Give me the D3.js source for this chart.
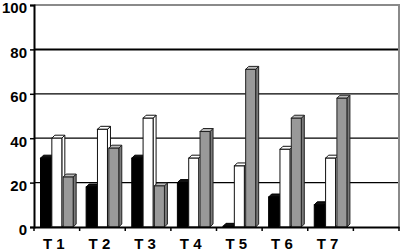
<!DOCTYPE html>
<html>
<head>
<meta charset="utf-8">
<script src="https://cdn.jsdelivr.net/npm/d3@7"></script>
<style>
  body { margin: 0; background: #fff; }
  text { font-family: "Liberation Sans", Arial, sans-serif; font-weight: bold; }
</style>
</head>
<body>
<svg width="404" height="252"></svg>
<script>
// chart data
const categories = ["T 1", "T 2", "T 3", "T 4", "T 5", "T 6", "T 7", ""];
const seriesNames = ["black", "white", "gray"];
const blackValues = [31, 18, 31, 20, 0.3, 13.5, 10];
const whiteValues = [40, 44, 49, 31, 27.5, 35, 31];
const grayValues = [22.5, 35.5, 18.5, 43, 71, 49, 58];
const yTicks = [0, 20, 40, 60, 80, 100];

const svg = d3.select("svg"),
  margin = { left: 34, top: 5, right: 5, bottom: 25 },
  width = 404 - margin.left - margin.right,
  height = 252 - margin.top - margin.bottom,
  depth = 3;

const g = svg.append("g").attr("transform", `translate(${margin.left},${margin.top})`);

const x = d3.scaleBand().domain(categories).range([0, width]);
const xInner = d3.scaleBand().domain(seriesNames).range([6.5, 6.5 + 34]);
const y = d3.scaleLinear().domain([0, 100]).range([height, 0]);

// colours: front, top, side, outline
const styles = {
  black: { front: "#000", top: "#111", side: "#000", stroke: "#000" },
  white: { front: "#fff", top: "#fff", side: "#fff", stroke: "#111" },
  gray: { front: "#999", top: "#bbb", side: "#7a7a7a", stroke: "#222" }
};

// gridlines
g.selectAll(".grid")
  .data(yTicks.filter(d => d > 0 && d < 100))
  .enter()
  .append("line")
  .attr("x1", 0)
  .attr("x2", width)
  .attr("y1", d => y(d))
  .attr("y2", d => y(d))
  .attr("stroke", "#000")
  .attr("stroke-width", d => (d === 80 ? 2 : 1.2));

// gray frame top and right
g.append("path")
  .attr("d", `M0,${y(100)}H${width}V${height}`)
  .attr("fill", "none")
  .attr("stroke", "#8a8a8a")
  .attr("stroke-width", 2);

// bars
const rows = categories.slice(0, 7).map((c, i) => ({
  cat: c,
  vals: [blackValues[i], whiteValues[i], grayValues[i]]
}));

const groups = g.selectAll(".grp")
  .data(rows)
  .enter()
  .append("g")
  .attr("transform", d => `translate(${x(d.cat)},0)`);

const bw = 10;
groups.each(function (d) {
  const gg = d3.select(this);
  seriesNames.forEach((s, j) => {
    const v = d.vals[j];
    const x0 = xInner(s), y0 = y(v), st = styles[s];
    // side
    gg.append("path")
      .attr("d", `M${x0 + bw},${y0}L${x0 + bw + depth},${y0 - depth}L${x0 + bw + depth},${height - depth}L${x0 + bw},${height}Z`)
      .attr("fill", st.side).attr("stroke", st.stroke).attr("stroke-width", 1);
    // top
    gg.append("path")
      .attr("d", `M${x0},${y0}L${x0 + depth},${y0 - depth}L${x0 + bw + depth},${y0 - depth}L${x0 + bw},${y0}Z`)
      .attr("fill", st.top).attr("stroke", st.stroke).attr("stroke-width", 1);
    // front
    gg.append("rect")
      .attr("x", x0).attr("y", y0)
      .attr("width", bw).attr("height", height - y0)
      .attr("fill", st.front).attr("stroke", st.stroke).attr("stroke-width", 1);
  });
});

// y axis
const yAxis = g.append("g")
  .call(d3.axisLeft(y).tickValues(yTicks).tickSize(4).tickPadding(3));
yAxis.select(".domain").attr("stroke", "#000").attr("stroke-width", 2);
yAxis.selectAll(".tick line").attr("stroke", "#000").attr("stroke-width", 1.5);
yAxis.selectAll("text").attr("font-size", 15).attr("fill", "#000").attr("dy", "0.52em");

// x axis
const xAxis = g.append("g")
  .attr("transform", `translate(0,${height})`)
  .call(d3.axisBottom(x).tickSize(0).tickPadding(11));
xAxis.select(".domain").attr("stroke", "#000").attr("stroke-width", 2);
xAxis.selectAll("text").attr("font-size", 15).attr("fill", "#000").attr("dx", -3);

// category boundary ticks
g.selectAll(".xtick")
  .data(categories.concat(["end"]))
  .enter()
  .append("line")
  .attr("x1", (d, i) => i * x.step())
  .attr("x2", (d, i) => i * x.step())
  .attr("y1", height)
  .attr("y2", height + 4)
  .attr("stroke", "#000")
  .attr("stroke-width", 1.5);
</script>
</body>
</html>
